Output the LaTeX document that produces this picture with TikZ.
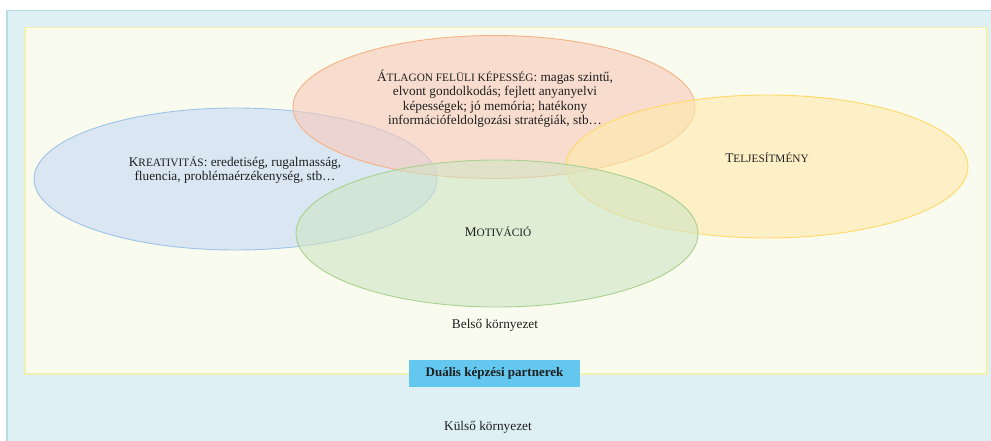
\documentclass[tikz,border=0pt]{standalone}
\usepackage{fontspec}
\setmainfont{Liberation Serif}
\usetikzlibrary{shapes.geometric}
\definecolor{outerfill}{RGB}{223,240,245}
\definecolor{outerline}{RGB}{184,221,229}
\definecolor{innerfill}{RGB}{250,251,239}
\definecolor{innerline}{RGB}{240,240,176}
\definecolor{bluefill}{RGB}{197,219,246}
\definecolor{blueline}{RGB}{157,195,230}
\definecolor{orangefill}{RGB}{248,201,187}
\definecolor{orangeline}{RGB}{244,177,131}
\definecolor{yellowfill}{RGB}{255,234,171}
\definecolor{yellowline}{RGB}{255,217,102}
\definecolor{greenfill}{RGB}{207,228,196}
\definecolor{greenline}{RGB}{169,209,142}
\definecolor{partnerfill}{RGB}{99,199,239}
\definecolor{txt}{RGB}{30,30,30}
\newcommand\fsc[2]{#1{\fontsize{11.3}{10}\selectfont #2}}
\tikzset{
  blob/.style={ellipse, draw=#1line, fill=#1fill, fill opacity=0.6, line width=0.9pt, inner sep=0pt},
  lbl/.style={text=txt, align=center, font=\fontsize{13.3}{14.5}\selectfont, inner sep=0pt},
}
\begin{document}
\begin{tikzpicture}[x=1pt,y=-1pt]
\useasboundingbox (0,0) rectangle (991,441);
\fill[white] (0,0) rectangle (991,441);
% outer environment
\begin{scope}
\clip (0,0) rectangle (991,441);
\node[draw=outerline, fill=outerfill, line width=1.5pt, minimum width=1000pt, minimum height=445pt, inner sep=0pt, anchor=north west] (outer) at (6,10) {};
\end{scope}
% inner environment
\node[draw=innerline, fill=innerfill, line width=1.5pt, minimum width=962pt, minimum height=346pt, inner sep=0pt, anchor=north west] (inner) at (24,27) {};
% ellipses
\node[blob=blue, minimum width=403pt, minimum height=142pt] (kre) at (235.5,179) {};
\node[blob=orange, minimum width=402pt, minimum height=143pt] (atl) at (494,107) {};
\node[blob=yellow, minimum width=402pt, minimum height=143pt] (tel) at (767,166.5) {};
\node[blob=green, minimum width=402pt, minimum height=147pt] (mot) at (497,233.5) {};
% texts
\node[lbl] (atlt) at (495,98.5) {\fsc{Á}{TLAGON FELÜLI KÉPESSÉG}: magas szintű,\\ elvont gondolkodás; fejlett anyanyelvi\\ képességek; jó memória; hatékony\\ információfeldolgozási stratégiák, stb…};
\node[lbl] (kret) at (235,170) {\fsc{K}{REATIVITÁS}: eredetiség, rugalmasság,\\ fluencia, problémaérzékenység, stb…};
\node[lbl] (telt) at (767,158) {\fsc{T}{ELJESÍTMÉNY}};
\node[lbl] (mott) at (498,232) {\fsc{M}{OTIVÁCIÓ}};
\node[lbl] (belso) at (495,325) {Belső környezet};
\node[fill=partnerfill, minimum width=171pt, minimum height=27pt, inner sep=0pt, text=txt, font=\fontsize{13}{14}\bfseries] (dual) at (494.5,373.5) {Duális képzési partnerek};
\node[lbl] (kulso) at (488,427) {Külső környezet};
\end{tikzpicture}
\end{document}
